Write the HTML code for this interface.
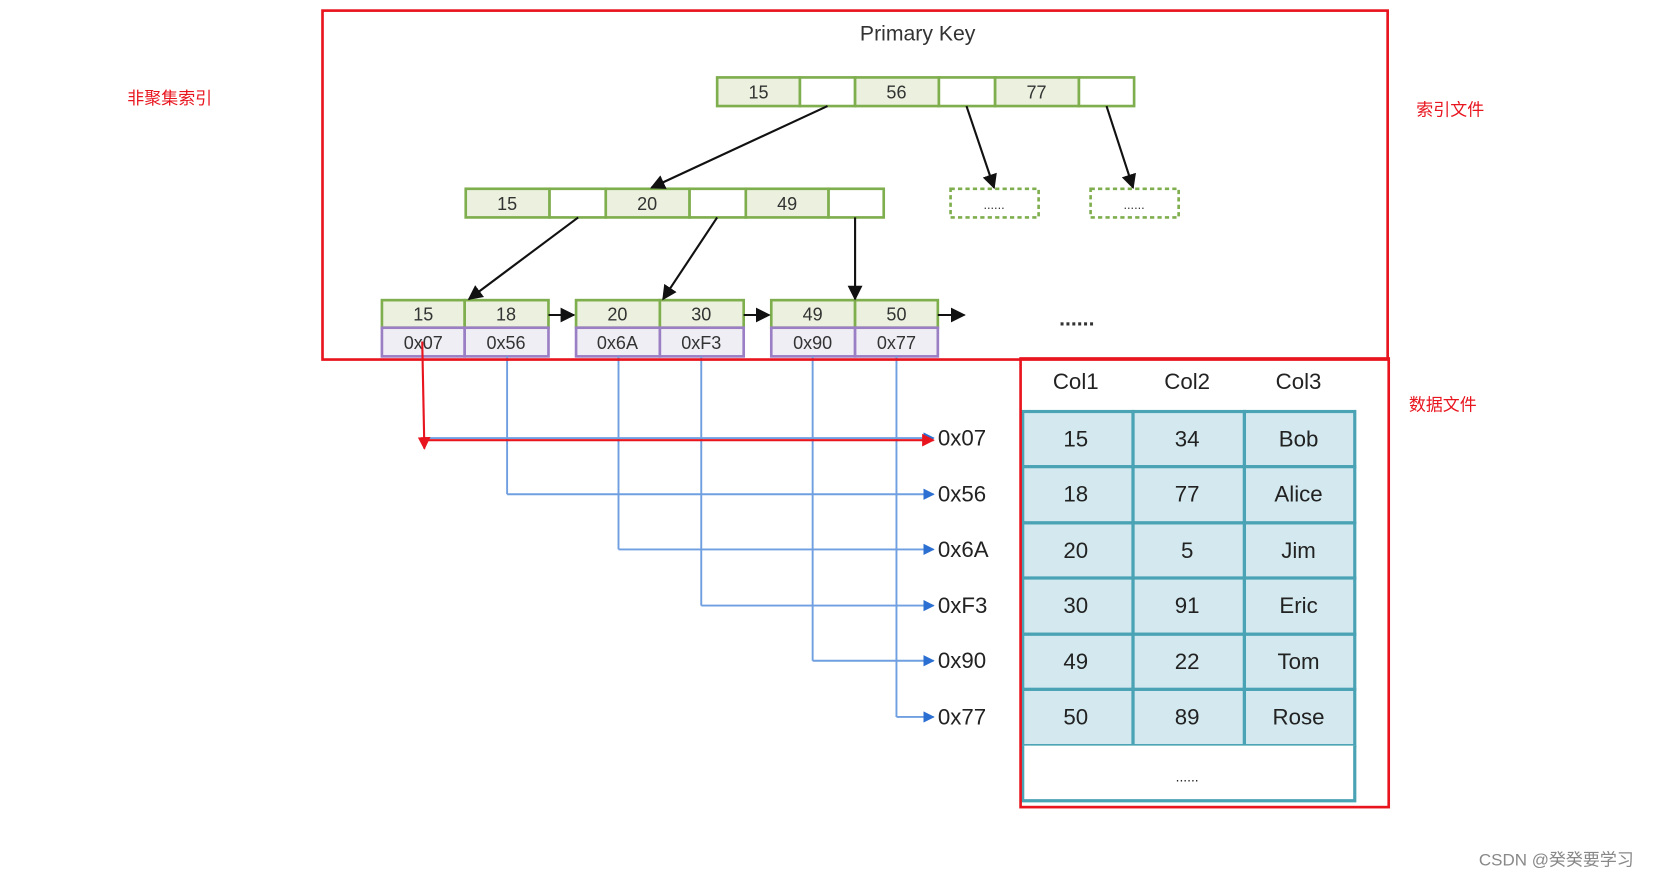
<!DOCTYPE html>
<html><head><meta charset="utf-8">
<style>
html,body{margin:0;padding:0;background:#fff;}
svg{display:block;}
text{font-family:"Liberation Sans","Noto Sans CJK SC",sans-serif;}
</style></head>
<body>
<svg width="1655" height="875" viewBox="0 0 1560 825" preserveAspectRatio="none" xmlns="http://www.w3.org/2000/svg">
<defs>
<marker id="ab" viewBox="0 0 10 10" refX="9" refY="5" markerWidth="7" markerHeight="7" orient="auto"><path d="M0,0 L10,5 L0,10 z" fill="#111"/></marker>
<marker id="abl" viewBox="0 0 10 10" refX="9" refY="5" markerWidth="6" markerHeight="6" orient="auto"><path d="M0,0 L10,5 L0,10 z" fill="#2a6fd1"/></marker>
<marker id="ar" viewBox="0 0 10 10" refX="9" refY="5" markerWidth="6" markerHeight="6" orient="auto"><path d="M0,0 L10,5 L0,10 z" fill="#e8141e"/></marker>
</defs>

<!-- labels -->
<text x="120" y="98" font-size="16" fill="#e8141e">非聚集索引</text>
<text x="1335" y="109" font-size="16" fill="#e8141e">索引文件</text>
<text x="1328" y="387" font-size="16" fill="#e8141e">数据文件</text>
<text x="865" y="38" font-size="20" fill="#333" text-anchor="middle">Primary Key</text>

<g stroke="#7fae4e" stroke-width="2.5" font-size="17" fill="#333">
<!-- top node -->
<rect x="676" y="73" width="78" height="27" fill="#ebf1de"/>
<rect x="754" y="73" width="52" height="27" fill="#fff"/>
<rect x="806" y="73" width="79" height="27" fill="#ebf1de"/>
<rect x="885" y="73" width="53" height="27" fill="#fff"/>
<rect x="938" y="73" width="79" height="27" fill="#ebf1de"/>
<rect x="1017" y="73" width="52" height="27" fill="#fff"/>
<!-- mid node -->
<rect x="439" y="178" width="79" height="27" fill="#ebf1de"/>
<rect x="518" y="178" width="53" height="27" fill="#fff"/>
<rect x="571" y="178" width="79" height="27" fill="#ebf1de"/>
<rect x="650" y="178" width="53" height="27" fill="#fff"/>
<rect x="703" y="178" width="78" height="27" fill="#ebf1de"/>
<rect x="781" y="178" width="52" height="27" fill="#fff"/>
<!-- dashed -->
<rect x="896" y="178" width="83" height="27" fill="#fff" stroke-dasharray="4,3"/>
<rect x="1028" y="178" width="83" height="27" fill="#fff" stroke-dasharray="4,3"/>
<!-- leaves -->
<rect x="360" y="283" width="78" height="26" fill="#ebf1de"/>
<rect x="438" y="283" width="79" height="26" fill="#ebf1de"/>
<rect x="543" y="283" width="79" height="26" fill="#ebf1de"/>
<rect x="622" y="283" width="79" height="26" fill="#ebf1de"/>
<rect x="727" y="283" width="79" height="26" fill="#ebf1de"/>
<rect x="806" y="283" width="78" height="26" fill="#ebf1de"/>
</g>
<g stroke="#9b7fc4" stroke-width="2.5" fill="#f0eef5">
<rect x="360" y="309" width="78" height="27"/>
<rect x="438" y="309" width="79" height="27"/>
<rect x="543" y="309" width="79" height="27"/>
<rect x="622" y="309" width="79" height="27"/>
<rect x="727" y="309" width="79" height="27"/>
<rect x="806" y="309" width="78" height="27"/>
</g>
<g font-size="17" fill="#333" text-anchor="middle">
<text x="715" y="93">15</text><text x="845" y="93">56</text><text x="977" y="93">77</text>
<text x="478" y="198">15</text><text x="610" y="198">20</text><text x="742" y="198">49</text>
<text x="937" y="197" font-size="12">......</text><text x="1069" y="197" font-size="12">......</text>
<text x="399" y="302">15</text><text x="477" y="302">18</text>
<text x="582" y="302">20</text><text x="661" y="302">30</text>
<text x="766" y="302">49</text><text x="845" y="302">50</text>
<text x="399" y="329">0x07</text><text x="477" y="329">0x56</text>
<text x="582" y="329">0x6A</text><text x="661" y="329">0xF3</text>
<text x="766" y="329">0x90</text><text x="845" y="329">0x77</text>
<text x="1015" y="307" font-size="20" font-weight="bold">......</text>
</g>

<!-- black arrows -->
<g stroke="#111" stroke-width="2" fill="none" marker-end="url(#ab)">
<line x1="780" y1="100" x2="614" y2="177"/>
<line x1="911" y1="100" x2="937" y2="177"/>
<line x1="1043" y1="100" x2="1068" y2="177"/>
<line x1="545" y1="205" x2="442" y2="282"/>
<line x1="676" y1="205" x2="625" y2="282"/>
<line x1="806" y1="205" x2="806" y2="282"/>
<line x1="517" y1="297" x2="541" y2="297"/>
<line x1="701" y1="297" x2="725" y2="297"/>
<line x1="884" y1="297" x2="909" y2="297"/>
</g>

<!-- blue connectors -->
<g stroke="#6f9fe0" stroke-width="1.8" fill="none">
<line x1="478" y1="336" x2="478" y2="466"/>
<line x1="583" y1="336" x2="583" y2="518"/>
<line x1="661" y1="336" x2="661" y2="571"/>
<line x1="766" y1="336" x2="766" y2="623"/>
<line x1="845" y1="336" x2="845" y2="676"/>
<line x1="400" y1="413" x2="880" y2="413" marker-end="url(#abl)"/>
<line x1="478" y1="466" x2="880" y2="466" marker-end="url(#abl)"/>
<line x1="583" y1="518" x2="880" y2="518" marker-end="url(#abl)"/>
<line x1="661" y1="571" x2="880" y2="571" marker-end="url(#abl)"/>
<line x1="766" y1="623" x2="880" y2="623" marker-end="url(#abl)"/>
<line x1="845" y1="676" x2="880" y2="676" marker-end="url(#abl)"/>
</g>
<g font-size="21" fill="#222">
<text x="884" y="420">0x07</text><text x="884" y="473">0x56</text>
<text x="884" y="525">0x6A</text><text x="884" y="578">0xF3</text>
<text x="884" y="630">0x90</text><text x="884" y="683">0x77</text>
</g>

<!-- red overlay arrows -->
<g stroke="#e8141e" stroke-width="2" fill="none">
<line x1="398" y1="322" x2="400" y2="423" marker-end="url(#ar)"/>
<line x1="401" y1="415" x2="880" y2="415" marker-end="url(#ar)"/>
</g>

<!-- table -->
<g font-size="21" fill="#222" text-anchor="middle">
<text x="1014" y="367">Col1</text><text x="1119" y="367">Col2</text><text x="1224" y="367">Col3</text>
</g>
<g stroke="#4aa3b5" stroke-width="3" fill="#d3e9ef">
<rect x="964" y="388" width="104" height="52"/><rect x="1068" y="388" width="105" height="52"/><rect x="1173" y="388" width="104" height="52"/>
<rect x="964" y="440" width="104" height="53"/><rect x="1068" y="440" width="105" height="53"/><rect x="1173" y="440" width="104" height="53"/>
<rect x="964" y="493" width="104" height="52"/><rect x="1068" y="493" width="105" height="52"/><rect x="1173" y="493" width="104" height="52"/>
<rect x="964" y="545" width="104" height="53"/><rect x="1068" y="545" width="105" height="53"/><rect x="1173" y="545" width="104" height="53"/>
<rect x="964" y="598" width="104" height="52"/><rect x="1068" y="598" width="105" height="52"/><rect x="1173" y="598" width="104" height="52"/>
<rect x="964" y="650" width="104" height="53"/><rect x="1068" y="650" width="105" height="53"/><rect x="1173" y="650" width="104" height="53"/>
<path d="M964,703 L964,755 L1277,755 L1277,703" fill="#fff"/>
</g>
<g font-size="21" fill="#222" text-anchor="middle">
<text x="1014" y="421">15</text><text x="1119" y="421">34</text><text x="1224" y="421">Bob</text>
<text x="1014" y="473">18</text><text x="1119" y="473">77</text><text x="1224" y="473">Alice</text>
<text x="1014" y="526">20</text><text x="1119" y="526">5</text><text x="1224" y="526">Jim</text>
<text x="1014" y="578">30</text><text x="1119" y="578">91</text><text x="1224" y="578">Eric</text>
<text x="1014" y="631">49</text><text x="1119" y="631">22</text><text x="1224" y="631">Tom</text>
<text x="1014" y="683">50</text><text x="1119" y="683">89</text><text x="1224" y="683">Rose</text>
<text x="1119" y="737" font-size="13">......</text>
</g>

<!-- red frames -->
<g stroke="#e8141e" stroke-width="2.5" fill="none">
<rect x="304" y="10" width="1004" height="329"/>
<rect x="962" y="338" width="347" height="423"/>
</g>

<text x="1394" y="816" font-size="16" fill="#888">CSDN @癸癸要学习</text>
</svg>
</body></html>
